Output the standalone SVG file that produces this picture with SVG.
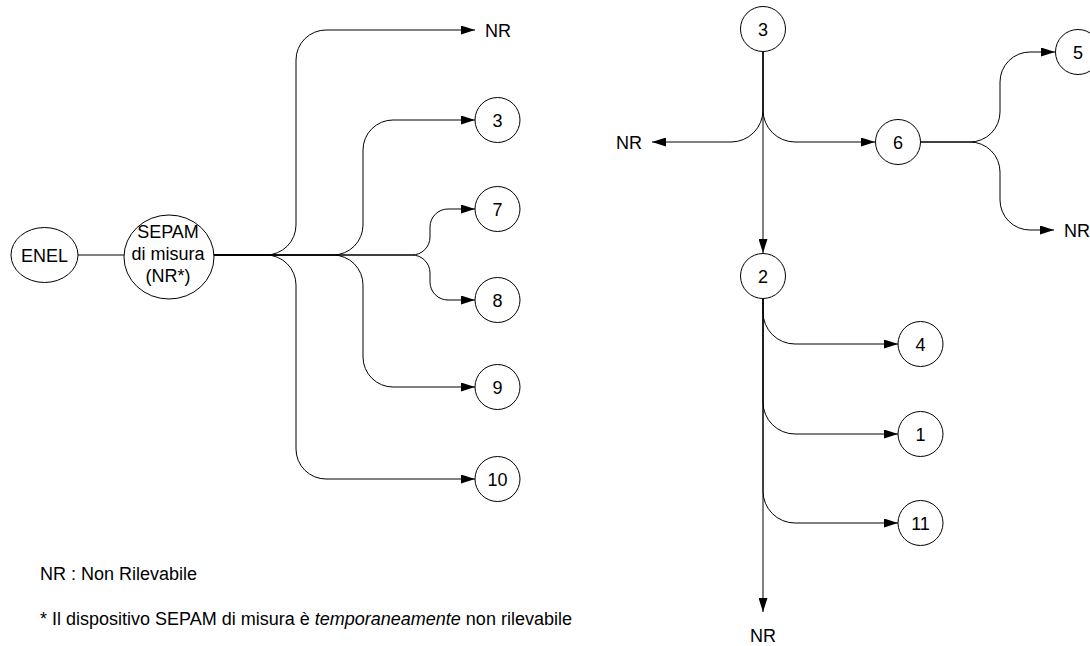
<svg xmlns="http://www.w3.org/2000/svg" width="1090" height="646" viewBox="0 0 1090 646">
  <style>
    .node { fill: #fff; stroke: #000; stroke-width: 1; }
    .wire { fill: none; stroke: #000; stroke-width: 1; }
    .arrow { marker-end: url(#tip); }
    text { font-family: "Liberation Sans", Arial, sans-serif; font-size: 18px; fill: #000; }
    .c { text-anchor: middle; }
  </style>
  <defs>
    <marker id="tip" markerUnits="userSpaceOnUse" markerWidth="14" markerHeight="9" refX="14" refY="4.5" orient="auto">
      <path d="M0,0 L14,4.5 L0,9 z" fill="#000"/>
    </marker>
  </defs>
  <rect width="1090" height="646" fill="#fff"/>

  <!-- connectors -->
  <g id="connectors">
    <line class="wire" x1="78" y1="255" x2="124" y2="255"/>
    <!-- fan-out from the metering SEPAM -->
    <path class="wire arrow" d="M214,255 H266 A30,30 0 0 0 296,225 V60 A30,30 0 0 1 326,30 H475"/>
    <path class="wire arrow" d="M214,255 H333 A30,30 0 0 0 363,225 V150 A30,30 0 0 1 393,120 H475"/>
    <path class="wire arrow" d="M214,255 H412 A18,18 0 0 0 430,237 V227 A18,18 0 0 1 448,209 H475"/>
    <path class="wire arrow" d="M214,255 H412 A18,18 0 0 1 430,273 V282 A18,18 0 0 0 448,300 H475"/>
    <path class="wire arrow" d="M214,255 H333 A30,30 0 0 1 363,285 V357 A30,30 0 0 0 393,387 H475"/>
    <path class="wire arrow" d="M214,255 H266 A30,30 0 0 1 296,285 V449 A30,30 0 0 0 326,479 H475"/>
    <!-- node 3 tree -->
    <path class="wire arrow" d="M763,52 V253"/>
    <path class="wire arrow" d="M763,52 V110 A32,32 0 0 1 731,142 H652"/>
    <path class="wire arrow" d="M763,52 V110 A32,32 0 0 0 795,142 H875"/>
    <!-- node 6 split -->
    <path class="wire arrow" d="M921,142 H970 A30,30 0 0 0 1000,112 V82 A30,30 0 0 1 1030,52 H1055"/>
    <path class="wire arrow" d="M921,142 H970 A30,30 0 0 1 1000,172 V200 A30,30 0 0 0 1030,230 H1054"/>
    <!-- node 2 trunk -->
    <path class="wire arrow" d="M763,299 V612"/>
    <path class="wire arrow" d="M763,299 V312 A32,32 0 0 0 795,344 H898"/>
    <path class="wire arrow" d="M763,299 V402 A32,32 0 0 0 795,434 H898"/>
    <path class="wire arrow" d="M763,299 V491 A32,32 0 0 0 795,523 H898"/>
  </g>

  <g id="enel">
    <ellipse class="node" cx="44.5" cy="255" rx="33.5" ry="27.5"/>
    <text class="c" x="44.5" y="261.5">ENEL</text>
  </g>
  <g id="sepam">
    <ellipse class="node" cx="169" cy="257" rx="45" ry="42"/>
    <text class="c" x="168" y="238">SEPAM</text>
    <text class="c" x="168" y="260">di misura</text>
    <text class="c" x="168" y="282">(NR*)</text>
  </g>

  <g id="n3a"><circle class="node" cx="497.5" cy="120" r="22.5"/><text class="c" x="497.5" y="126.5">3</text></g>
  <g id="n7"><circle class="node" cx="497.5" cy="209" r="22.5"/><text class="c" x="497.5" y="215.5">7</text></g>
  <g id="n8"><circle class="node" cx="497.5" cy="300" r="22.5"/><text class="c" x="497.5" y="306.5">8</text></g>
  <g id="n9"><circle class="node" cx="497.5" cy="387" r="22.5"/><text class="c" x="497.5" y="393.5">9</text></g>
  <g id="n10"><circle class="node" cx="497.5" cy="479" r="22.5"/><text class="c" x="497.5" y="485.5">10</text></g>
  <g id="nr-top"><text x="485" y="37">NR</text></g>

  <g id="n3b"><circle class="node" cx="763" cy="29" r="22.5"/><text class="c" x="763" y="35.5">3</text></g>
  <g id="nr-left"><text x="642" y="148.5" text-anchor="end">NR</text></g>
  <g id="n6"><circle class="node" cx="898" cy="142" r="22.5"/><text class="c" x="898" y="148.5">6</text></g>
  <g id="n5"><circle class="node" cx="1078" cy="52" r="22.5"/><text class="c" x="1078" y="58.5">5</text></g>
  <g id="nr-right"><text x="1064" y="236.5">NR</text></g>
  <g id="n2"><circle class="node" cx="763" cy="276" r="22.5"/><text class="c" x="763" y="282.5">2</text></g>
  <g id="n4"><circle class="node" cx="920.5" cy="344" r="22.5"/><text class="c" x="920.5" y="350.5">4</text></g>
  <g id="n1"><circle class="node" cx="920.5" cy="434" r="22.5"/><text class="c" x="920.5" y="440.5">1</text></g>
  <g id="n11"><circle class="node" cx="920.5" cy="523" r="22.5"/><text class="c" x="920.5" y="529.5">11</text></g>
  <g id="nr-bottom"><text class="c" x="763" y="642">NR</text></g>

  <g id="legend">
    <text x="40" y="580">NR : Non Rilevabile</text>
    <text x="40" y="625">* Il dispositivo SEPAM di misura è <tspan font-style="italic">temporaneamente</tspan> non rilevabile</text>
  </g>
</svg>
